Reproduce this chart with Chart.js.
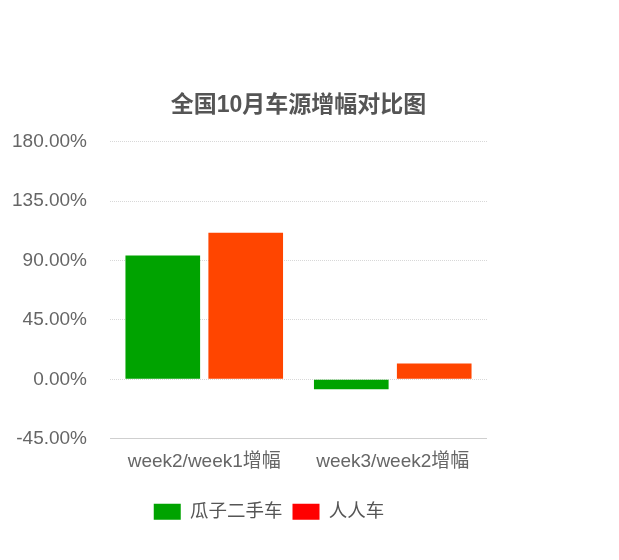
<!DOCTYPE html>
<html>
<head>
<meta charset="utf-8">
<script src="https://cdn.jsdelivr.net/npm/chart.js@4"></script>
<style>
  body { margin: 0; background: #fff; }
  #wrap { position: absolute; left: 0; top: 0; width: 538px; height: 560px; }
</style>
</head>
<body>
<div id="wrap"><canvas id="myChart"></canvas></div>
<script>
// chart data
const categories = ['week2/week1增幅', 'week3/week2增幅'];
const guaziValues = [93.8, -7.6];
const renrenValues = [110.9, 11.9];
const seriesNames = ['瓜子二手车', '人人车'];
const barColors = ['#00a300', '#ff4500'];
const legendColors = ['#00a300', '#ff0000'];
const yMin = -45;
const yMax = 180;
const yStep = 45;

const fontFamily = "'Liberation Sans', 'Noto Sans CJK SC', sans-serif";
const ctx = document.getElementById('myChart');

const chart = new Chart(ctx, {
    type: 'bar',
    data: {
        labels: categories,
        datasets: [
            { label: seriesNames[0], data: guaziValues, backgroundColor: barColors[0], borderWidth: 0 },
            { label: seriesNames[1], data: renrenValues, backgroundColor: barColors[1], borderWidth: 0 }
        ]
    },
    options: {
        animation: false,
        responsive: true,
        maintainAspectRatio: false,
        datasets: {
            bar: { categoryPercentage: 0.88, barPercentage: 0.9 }
        },
        layout: {
            padding: { top: 92, left: 11, right: 11, bottom: 29 }
        },
        scales: {
            x: {
                grid: { display: false },
                border: { display: false },
                ticks: {
                    color: '#666',
                    padding: 4,
                    font: { family: fontFamily, size: 19 }
                },
                afterFit: function (scale) {
                    // no extra side padding for the long labels
                    scale.paddingLeft = 0;
                    scale.paddingRight = 0;
                    scale.height += 15;
                }
            },
            y: {
                min: yMin,
                max: yMax,
                grid: {
                    drawTicks: false,
                    color: (c) => c.tick && c.tick.value === yMin ? '#cfcfcf' : '#d8d8d8',
                    lineWidth: 1
                },
                border: {
                    display: false,
                    dash: (c) => c.tick && c.tick.value === yMin ? [] : [1, 1]
                },
                ticks: {
                    stepSize: yStep,
                    color: '#666',
                    padding: 23,
                    font: { family: fontFamily, size: 19 },
                    callback: (v) => v.toFixed(2) + '%'
                },
                afterFit: function (scale) {
                    scale.width = 99;
                }
            },
            // empty right-hand space so the legend sits centred on the canvas
            spacer: {
                type: 'linear',
                position: 'right',
                display: true,
                grid: { display: false },
                border: { display: false },
                ticks: { display: false },
                afterFit: function (scale) {
                    scale.width = 40;
                }
            }
        },
        plugins: {
            title: {
                display: true,
                text: '全国10月车源增幅对比图',
                fullSize: false,
                color: '#555',
                font: { family: fontFamily, size: 23, weight: 'bold' },
                padding: { top: 0, bottom: 22 }
            },
            legend: {
                position: 'bottom',
                labels: {
                    boxWidth: 27,
                    boxHeight: 16,
                    color: '#555',
                    font: { family: fontFamily, size: 18.5 },
                    generateLabels: function (chart) {
                        const items = Chart.defaults.plugins.legend.labels.generateLabels(chart);
                        items.forEach((item, i) => {
                            item.fillStyle = legendColors[i];
                            item.strokeStyle = legendColors[i];
                            item.lineWidth = 0;
                        });
                        return items;
                    }
                }
            },
            tooltip: { enabled: false }
        }
    }
});
</script>
</body>
</html>
